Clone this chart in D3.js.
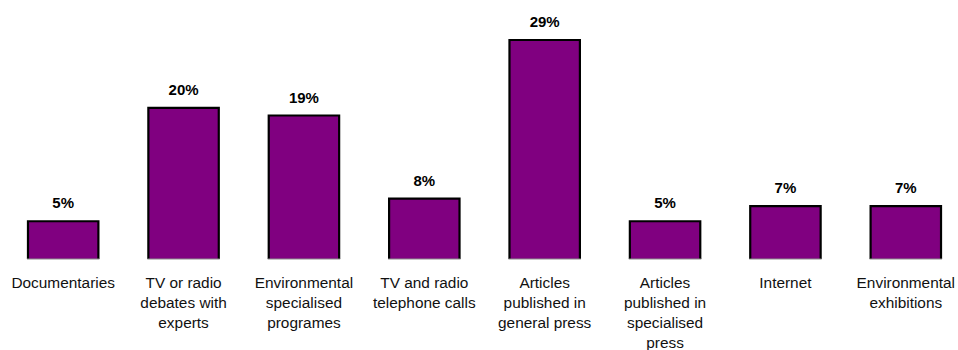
<!DOCTYPE html>
<html>
<head>
<meta charset="utf-8">
<script src="https://cdn.jsdelivr.net/npm/d3@7"></script>
<style>
  html, body { margin: 0; padding: 0; background: #fff; }
  svg { display: block; }
</style>
</head>
<body>
<svg id="chart" width="958" height="350"></svg>
<script>
// Information sources and their share of responses
const categories = [
  ["Documentaries"],
  ["TV or radio", "debates with", "experts"],
  ["Environmental", "specialised", "programes"],
  ["TV and radio", "telephone calls"],
  ["Articles", "published in", "general press"],
  ["Articles", "published in", "specialised", "press"],
  ["Internet"],
  ["Environmental", "exhibitions"]
];
const values = [5, 20, 19, 8, 29, 5, 7, 7];
const valueLabels = ["5%", "20%", "19%", "8%", "29%", "5%", "7%", "7%"];

const svg = d3.select("#chart");
const baseY = 259;

const x = d3.scaleBand()
  .domain(d3.range(values.length))
  .range([3, 966])
  .paddingInner(0.415)
  .paddingOuter(0.2075);

const y = d3.scaleLinear()
  .domain([0, 29])
  .range([baseY, 40]);

const g = svg.append("g");

const bars = g.selectAll("g.bar")
  .data(values)
  .join("g")
  .attr("class", "bar");

bars.append("rect")
  .attr("x", (d, i) => x(i))
  .attr("y", d => y(d))
  .attr("width", x.bandwidth())
  .attr("height", d => baseY - y(d))
  .attr("fill", "#800080");

// black outline on left, top and right; grey line at the base
bars.append("path")
  .attr("d", (d, i) => {
    const x0 = x(i), x1 = x(i) + x.bandwidth(), y0 = y(d);
    return `M${x0},${baseY}V${y0}H${x1}V${baseY}`;
  })
  .attr("fill", "none")
  .attr("stroke", "#000")
  .attr("stroke-width", 2.2);

bars.append("line")
  .attr("x1", (d, i) => x(i) - 1)
  .attr("x2", (d, i) => x(i) + x.bandwidth() + 1)
  .attr("y1", baseY)
  .attr("y2", baseY)
  .attr("stroke", "#8a8a8a")
  .attr("stroke-width", 1.2);

// value labels
bars.append("text")
  .attr("x", (d, i) => x(i) + x.bandwidth() / 2)
  .attr("y", d => y(d) - 13)
  .attr("text-anchor", "middle")
  .attr("font-family", "Liberation Sans, Arial, sans-serif")
  .attr("font-size", 15)
  .attr("font-weight", "bold")
  .attr("fill", "#000")
  .text((d, i) => valueLabels[i]);

// category labels, one tspan per line
const cat = g.selectAll("text.cat")
  .data(categories)
  .join("text")
  .attr("class", "cat")
  .attr("text-anchor", "middle")
  .attr("font-family", "Liberation Sans, Arial, sans-serif")
  .attr("font-size", 15.4)
  .attr("fill", "#111");

cat.selectAll("tspan")
  .data((d, i) => d.map(line => ({ line, i })))
  .join("tspan")
  .attr("x", d => x(d.i) + x.bandwidth() / 2)
  .attr("y", (d, j) => 287.5 + j * 20)
  .text(d => d.line);
</script>
</body>
</html>
